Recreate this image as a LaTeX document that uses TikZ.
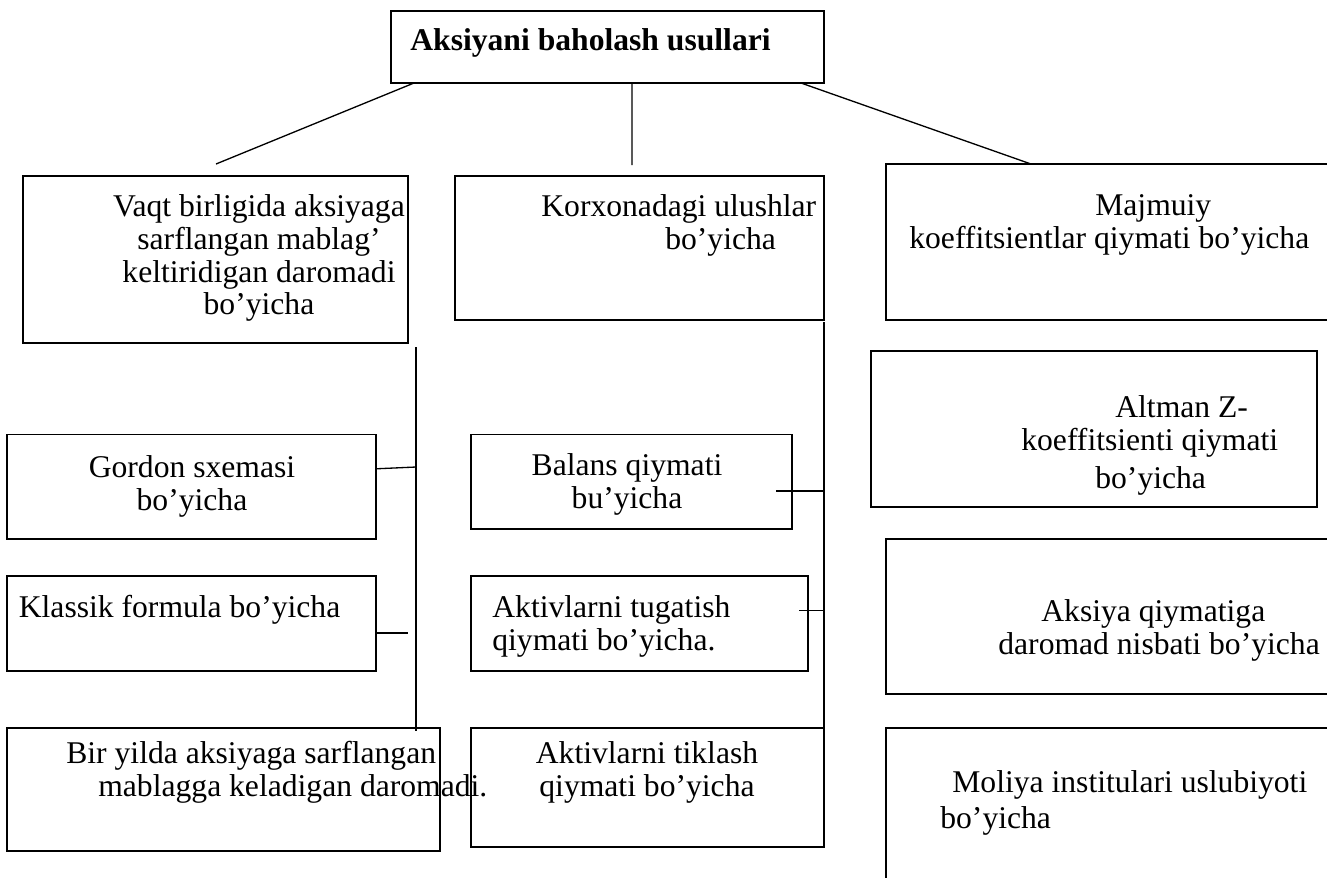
\documentclass[tikz,border=0pt]{standalone}
\usepackage{fontspec}
\setmainfont{Liberation Serif}
\usetikzlibrary{fit}

\begin{document}
\begin{tikzpicture}[x=0.02cm,y=-0.02cm,
	box/.style={draw,line width=1pt,inner sep=0pt,outer sep=0pt},
	txt/.style={inner sep=0pt,font=\fontsize{18}{18.7}\selectfont},
	link/.style={line width=0.75pt}]
	\useasboundingbox (0,0) rectangle (1327,877);
	% boxes
	\node[box,fit={(391,11) (824,83)}] (usul) {};
	\node[box,fit={(23,176) (408,343)}] (vaqt) {};
	\node[box,fit={(455,176) (824,320)}] (korxona) {};
	\node[box,fit={(886,164) (1340,320)}] (majmuiy) {};
	\node[box,fit={(7,434.5) (376,539)}] (gordon) {};
	\node[box,fit={(7,576) (376,671)}] (klassik) {};
	\node[box,fit={(7,728) (440,851)}] (biryil) {};
	\node[box,fit={(471,434.5) (792,529)}] (balans) {};
	\node[box,fit={(471,576) (808,671)}] (tugatish) {};
	\node[box,fit={(471,728) (824,847)}] (tiklash) {};
	\node[box,fit={(871,351) (1317,507)}] (altman) {};
	\node[box,fit={(886,539) (1340,694)}] (aksiya) {};
	\node[box,fit={(886,728) (1340,900)}] (moliya) {};
	% texts
	\node[txt,font=\fontsize{18}{18.7}\selectfont\bfseries,anchor=base west] (usul-t) at (410,50) {Aksiyani baholash usullari};
	\node[txt,align=center,anchor=north] (vaqt-t) at (259,194) {Vaqt birligida aksiyaga\\sarflangan mablag’\\keltiridigan daromadi\\bo’yicha};
	\node[txt,align=left,anchor=north west] (korxona-t) at (541,194) {Korxonadagi ulushlar\\\hspace*{2.48cm}bo’yicha};
	\node[txt,align=left,anchor=north west] (majmuiy-t) at (909,194) {\hspace*{3.72cm}Majmuiy\\koeffitsientlar qiymati bo’yicha};
	\node[txt,align=center,anchor=north] (gordon-t) at (192,455) {Gordon sxemasi\\bo’yicha};
	\node[txt,anchor=base west] (klassik-t) at (18.5,617) {Klassik formula bo’yicha};
	\node[txt,align=left,anchor=north west] (biryil-t) at (66,741) {Bir yilda aksiyaga sarflangan\\\hspace*{0.64cm}mablagga keladigan daromadi.};
	\node[txt,align=center,anchor=north] (balans-t) at (627,453) {Balans qiymati\\bu’yicha};
	\node[txt,align=left,anchor=north west] (tugatish-t) at (492,595) {Aktivlarni tugatish\\qiymati bo’yicha.};
	\node[txt,align=center,anchor=north] (tiklash-t) at (647,741) {Aktivlarni tiklash\\qiymati bo’yicha};
	\node[txt,align=left,anchor=north west] (altman-t) at (1021,395) {\hspace*{1.88cm}Altman Z-\\koeffitsienti qiymati\\[3pt]\hspace*{1.48cm}bo’yicha};
	\node[txt,align=left,anchor=north west] (aksiya-t) at (998,599) {\hspace*{0.86cm}Aksiya qiymatiga\\daromad nisbati bo’yicha};
	\node[txt,align=left,anchor=north west] (moliya-t) at (940,770) {\hspace*{0.24cm}Moliya institulari uslubiyoti\\[2pt]bo’yicha};
	% connectors
	\coordinate (vaqt-top) at (216,164);
	\coordinate (korxona-top) at (632,165);
	\coordinate (majmuiy-top) at (1031,164);
	\coordinate (lv-top) at (416,347);
	\coordinate (lv-bot) at (416,731);
	\coordinate (mv-top) at (824,322);
	\coordinate (mv-bot) at (824,847);
	\draw[link] (usul.south west) ++(23,0) -- (vaqt-top);
	\draw[link] (usul.south) ++(24.5,0) -- (korxona-top);
	\draw[link] (usul.south east) ++(-23,0) -- (majmuiy-top);
	\draw[link] (lv-top) -- (lv-bot);
	\draw[link] (mv-top) -- (mv-bot);
	\draw[link] (gordon.east) ++(1,-18) -- (lv-top |- 0,467);
	\draw[link] (klassik.east) ++(0,9.5) -- ++(32,0);
	\draw[link] (balans.east) ++(-16,9.25) -- ++(48,0);
	\draw[link] (tugatish.east) ++(-9,-13) -- ++(25,0);
\end{tikzpicture}
\end{document}
